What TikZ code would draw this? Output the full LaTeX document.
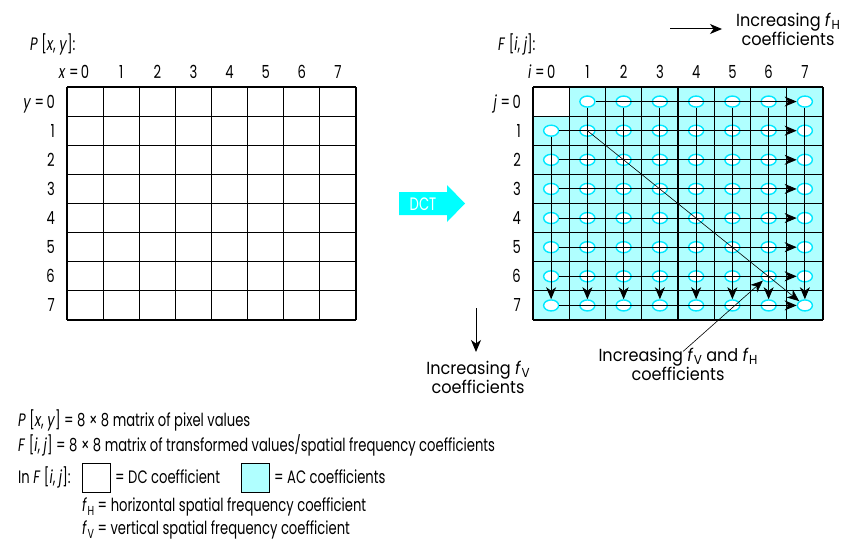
\documentclass[tikz,border=0pt]{standalone}
\usepackage{fontspec}
\setmainfont{Poppins}[FakeStretch=0.73]
\newfontfamily\labfont{Poppins}[FakeStretch=0.92]
\usetikzlibrary{arrows.meta,shapes.geometric}
\definecolor{accyan}{HTML}{B0FFFF}
\definecolor{ringcyan}{HTML}{00E8FF}
\definecolor{dctcyan}{HTML}{00FFFF}
\newcommand{\fsb}[1]{\textit{f}\kern0.5pt\raisebox{-3.5pt}{\fontsize{13}{13}\selectfont #1}}
\tikzset{
  txt/.style={inner sep=0pt, font=\fontsize{18}{18.5}\selectfont},
  labtxt/.style={inner sep=0pt, align=center, font=\labfont\fontsize{17.5}{18}\selectfont},
  gridline/.style={line width=1.2pt},
  ring/.style={ellipse, draw=ringcyan, fill=white, line width=1.4pt, minimum width=15pt, minimum height=11pt, inner sep=0pt},
  arr/.style={line width=1pt, -{Stealth[length=12pt,width=10pt,inset=3.5pt]}},
  thinarr/.style={line width=0.6pt, -{Stealth[length=12pt,width=10pt,inset=3.5pt]}},
  legbox/.style={draw, line width=1pt, minimum width=28pt, minimum height=29pt, inner sep=0pt},
}
\begin{document}
\begin{tikzpicture}[x=1pt,y=-1pt]
\useasboundingbox (0,0) rectangle (843,543);

% ---------- left grid P[x,y]
\node[txt, anchor=west] (ptitle) at (30,44) {\textit{P} [\textit{x}, \textit{y}]:};
\foreach \k in {0,...,8}{
  \draw[gridline] ({67+36.125*\k},87) -- ({67+36.125*\k},320);
  \draw[gridline] (67,{87+29.125*\k}) -- (356,{87+29.125*\k});
}
\foreach \k in {0,...,7}{
  \node[txt] (lx\k) at ({67+36.125*(\k+0.5)},72) {\k};
  \node[txt, anchor=east] (ly\k) at (55,{87+29.125*(\k+0.5)}) {\k};
}
\node[txt, anchor=base east] (lxeq) at ([xshift=-2pt]lx0.base west) {\textit{x} =};
\node[txt, anchor=base east] (lyeq) at ([xshift=-2pt]ly0.base west) {\textit{y} =};

% ---------- DCT arrow
\fill[dctcyan] (399,192) -- (447,192) -- (447,185) -- (465,203.5) -- (447,222) -- (447,215) -- (399,215) -- cycle;
\node[txt, text=white] (dct) at (423,204) {DCT};

% ---------- right grid F[i,j]
\node[txt, anchor=west] (ftitle) at (498,44) {\textit{F} [\textit{i}, \textit{j}]:};
\fill[accyan] (533,87) rectangle (823,320);
\fill[white] (533,87) rectangle (569.25,116.125);
\foreach \k in {0,...,8}{
  \draw[gridline] ({533+36.25*\k},87) -- ({533+36.25*\k},320);
  \draw[gridline] (533,{87+29.125*\k}) -- (823,{87+29.125*\k});
}
\foreach \k in {0,...,7}{
  \node[txt] (li\k) at ({533+36.25*(\k+0.5)},72) {\k};
  \node[txt, anchor=east] (lj\k) at (521,{87+29.125*(\k+0.5)}) {\k};
}
\node[txt, anchor=base east] (lieq) at ([xshift=-2pt]li0.base west) {\textit{i} =};
\node[txt, anchor=base east] (ljeq) at ([xshift=-2pt]lj0.base west) {\textit{j} =};

% rings
\foreach \j in {0,...,7}{
  \foreach \i in {0,...,7}{
    \pgfmathtruncatemacro\s{\i+\j}
    \ifnum\s>0
      \node[ring] (c\i\j) at ({533+36.25*(\i+0.5)},{87+29.125*(\j+0.5)}) {};
    \fi
  }
}
% horizontal arrows
\draw[arr] (c10.east) -- (c70.west);
\foreach \j in {1,...,7}{ \draw[arr] (c0\j.east) -- (c7\j.west); }
% vertical arrows
\draw[arr] (c01.south) -- (c07.north);
\foreach \i in {1,...,7}{ \draw[arr] (c\i0.south) -- (c\i7.north); }
% diagonal
\draw[thinarr] (c11.center) -- (c77.north west);

% ---------- direction labels
\coordinate (hs) at (670,29);
\coordinate (he) at (722,29);
\draw[arr] (hs) -- (he);
\node[labtxt] (lh) at (788,29) {Increasing \fsb{H}\\coefficients};

\coordinate (vs) at (476,308);
\coordinate (ve) at (476,352);
\draw[arr] (vs) -- (ve);
\node[labtxt] (lv) at (478,377) {Increasing \fsb{V}\\coefficients};

\node[labtxt] (lhv) at (678,364) {Increasing \fsb{V} and \fsb{H}\\coefficients};
\draw[thinarr] ([xshift=5pt,yshift=-4pt]lhv.north) -- (c66.south west);

% ---------- legend
\node[txt, anchor=west] (leg1) at (18,420) {\textit{P} [\textit{x}, \textit{y}] = 8 × 8 matrix of pixel values};
\node[txt, anchor=west] (leg2) at (18,445) {\textit{F} [\textit{i}, \textit{j}] = 8 × 8 matrix of transformed values/spatial frequency coefficients};
\node[txt, anchor=west] (leg3) at (18,477) {In \textit{F} [\textit{i}, \textit{j}]:};
\node[legbox] (dcbox) at (96,477.5) {};
\node[txt, anchor=west] (dctxt) at (115,477) {= DC coefficient};
\node[legbox, fill=accyan] (acbox) at (255.5,477.5) {};
\node[txt, anchor=west] (actxt) at (274,477) {= AC coefficients};
\node[txt, anchor=west] (leg4) at (82,507) {\fsb{H} = horizontal spatial frequency coefficient};
\node[txt, anchor=west] (leg5) at (82,530) {\fsb{V} = vertical spatial frequency coefficient};
\end{tikzpicture}
\end{document}
